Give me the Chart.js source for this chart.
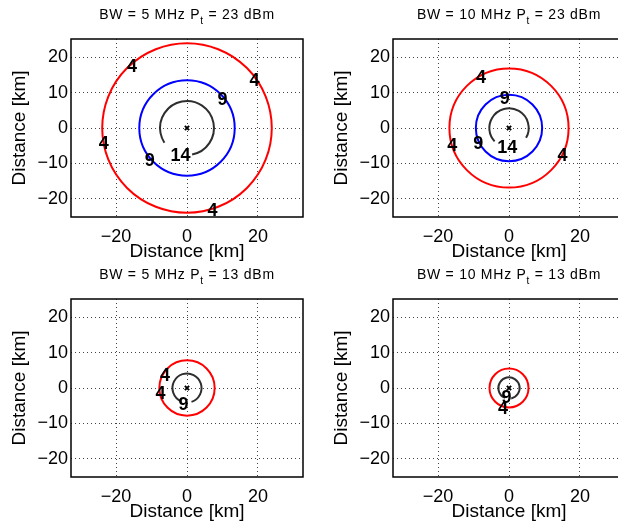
<!DOCTYPE html>
<html>
<head>
<meta charset="utf-8">
<script src="https://cdn.jsdelivr.net/npm/chart.js@4"></script>
<style>
  html, body { margin: 0; padding: 0; background: #fff; overflow: hidden; width: 618px; height: 523px; }
  .panel { position: absolute; width: 309px; height: 263px; }
</style>
</head>
<body>
<div class="panel" style="left:0;top:0"><canvas id="p0"></canvas></div>
<div class="panel" style="left:322px;top:0"><canvas id="p1"></canvas></div>
<div class="panel" style="left:0;top:260px"><canvas id="p2"></canvas></div>
<div class="panel" style="left:322px;top:260px"><canvas id="p3"></canvas></div>
<script>
// axis ticks //
const xTicks = [-20, 0, 20];
const xTickLabels = ['\u221220', '0', '20'];
const yTicks = [-20, -10, 0, 10, 20];
const yTickLabels = ['\u221220', '\u221210', '0', '10', '20'];

// one entry per panel //
const panelBW = [5, 10, 5, 10];
const panelPt = [23, 23, 13, 13];

// contour radii in km //
const redRadius = [23.9, 16.8, 7.8, 5.5];
const blueRadius = [13.45, 9.35, null, null];
const blackRadius = [7.6, 5.55, 4.1, 3.0];
// where the inner contour is broken by its label (degrees) //
const blackGap = [[-147, -79], [-137, -30], [-112, -72], [-112, -78]];

// contour labels //
const labelText = [
    ['4', '4', '4', '4', '9', '9', '14'],
    ['4', '4', '4', '9', '9', '14'],
    ['4', '4', '9'],
    ['9', '4']
];
const labelX = [
    [-15.5, 19.0, -23.5, 7.2, 10.0, -10.5, -1.8],
    [-7.9, -16.0, 15.1, -1.2, -8.7, -0.5],
    [-6.2, -7.5, -1.0],
    [-0.7, -1.7]
];
const labelY = [
    [17.5, 13.6, -4.2, -22.9, 8.3, -8.9, -7.5],
    [14.4, -4.7, -7.4, 8.7, -4.2, -5.3],
    [3.9, -1.4, -4.4],
    [-2.5, -5.4]
];

// transmitter position //
const centerX = [0];
const centerY = [0];

const FONT = '"Liberation Sans", Arial, Helvetica, sans-serif';

function ring(ctx, x, y, r, color, gap) {
    const cx = x.getPixelForValue(0), cy = y.getPixelForValue(0);
    const rx = x.getPixelForValue(r) - cx;
    const ry = cy - y.getPixelForValue(r);
    ctx.beginPath();
    if (gap) {
        const a1 = -gap[1] * Math.PI / 180;
        const a2 = -(gap[0] + 360) * Math.PI / 180;
        ctx.ellipse(cx, cy, rx, ry, 0, a1, a2, true);
    } else {
        ctx.ellipse(cx, cy, rx, ry, 0, 0, Math.PI * 2);
    }
    ctx.strokeStyle = color;
    ctx.lineWidth = 2;
    ctx.stroke();
}

const contourPlugin = {
    id: 'contours',
    beforeDatasetsDraw(chart, args, opts) {
        const {ctx, chartArea: a, scales: {x, y}} = chart;
        const i = opts.panel;
        ctx.save();
        ctx.beginPath();
        ctx.rect(a.left, a.top, a.width, a.height);
        ctx.clip();
        ring(ctx, x, y, redRadius[i], '#ff0000');
        if (blueRadius[i]) ring(ctx, x, y, blueRadius[i], '#0000ff');
        ring(ctx, x, y, blackRadius[i], '#2e2e2e', blackGap[i]);
        ctx.restore();
    },
    afterDatasetsDraw(chart, args, opts) {
        const {ctx, chartArea: a, scales: {x, y}} = chart;
        const i = opts.panel;
        ctx.save();
        ctx.font = 'bold 18px ' + FONT;
        ctx.fillStyle = '#000';
        ctx.textAlign = 'center';
        ctx.textBaseline = 'alphabetic';
        labelText[i].forEach((t, k) => {
            ctx.fillText(t, x.getPixelForValue(labelX[i][k]), y.getPixelForValue(labelY[i][k]) + 6.4);
        });
        // axes box //
        ctx.strokeStyle = '#000';
        ctx.lineWidth = 1.5;
        ctx.strokeRect(a.left, a.top, a.width, a.height);

        // title with subscript //
        const main1 = 'BW = ' + panelBW[i] + ' MHz P';
        const sub = 't';
        const main2 = ' = ' + panelPt[i] + ' dBm';
        ctx.letterSpacing = '0.75px';
        ctx.font = '14px ' + FONT;
        const w1 = ctx.measureText(main1).width, w3 = ctx.measureText(main2).width;
        ctx.font = '10px ' + FONT;
        const w2 = ctx.measureText(sub).width;
        let tx = (a.left + a.right) / 2 - (w1 + w2 + w3) / 2;
        const ty = a.top - 20;
        ctx.textAlign = 'left';
        ctx.font = '14px ' + FONT;
        ctx.fillText(main1, tx, ty);
        tx += w1;
        ctx.font = '10px ' + FONT;
        ctx.fillText(sub, tx, ty + 5);
        tx += w2;
        ctx.font = '14px ' + FONT;
        ctx.fillText(main2, tx, ty);
        ctx.restore();
    }
};

function makePanel(id, i) {
    new Chart(document.getElementById(id), {
        type: 'scatter',
        data: {
            datasets: [{
                data: centerX.map((v, k) => ({x: v, y: centerY[k]})),
                pointStyle: 'crossRot',
                pointRadius: 3,
                pointBorderWidth: 2,
                borderColor: '#000',
                backgroundColor: '#000'
            }]
        },
        options: {
            responsive: true,
            maintainAspectRatio: false,
            animation: false,
            events: [],
            layout: { padding: { top: 39, right: 5, bottom: 0, left: 0 } },
            plugins: {
                legend: { display: false },
                tooltip: { enabled: false },
                contours: { panel: i }
            },
            scales: {
                x: {
                    type: 'linear',
                    min: -32.7,
                    max: 32.7,
                    afterBuildTicks: s => { s.ticks = xTicks.map(v => ({value: v})); },
                    afterFit: s => { s.height = 46; },
                    grid: { color: '#444', lineWidth: 1, drawTicks: false },
                    border: { display: false, dash: [1, 3] },
                    ticks: {
                        padding: 9,
                        color: '#000',
                        font: { family: FONT, size: 18 },
                        maxRotation: 0,
                        callback: v => xTickLabels[xTicks.indexOf(v)]
                    },
                    title: {
                        display: true,
                        text: 'Distance [km]',
                        color: '#000',
                        font: { family: FONT, size: 19 },
                        padding: { top: 0, bottom: 0 }
                    }
                },
                y: {
                    type: 'linear',
                    min: -25.1,
                    max: 25.1,
                    afterBuildTicks: s => { s.ticks = yTicks.map(v => ({value: v})); },
                    afterFit: s => { s.width = 71; },
                    grid: { color: '#444', lineWidth: 1, drawTicks: false },
                    border: { display: false, dash: [1, 3] },
                    ticks: {
                        padding: 3,
                        color: '#000',
                        font: { family: FONT, size: 18 },
                        callback: v => yTickLabels[yTicks.indexOf(v)]
                    },
                    title: {
                        display: true,
                        text: 'Distance [km]',
                        color: '#000',
                        font: { family: FONT, size: 19 },
                        padding: { top: 8, bottom: 0 }
                    }
                }
            }
        },
        plugins: [contourPlugin]
    });
}

['p0', 'p1', 'p2', 'p3'].forEach((id, i) => makePanel(id, i));
</script>
</body>
</html>
